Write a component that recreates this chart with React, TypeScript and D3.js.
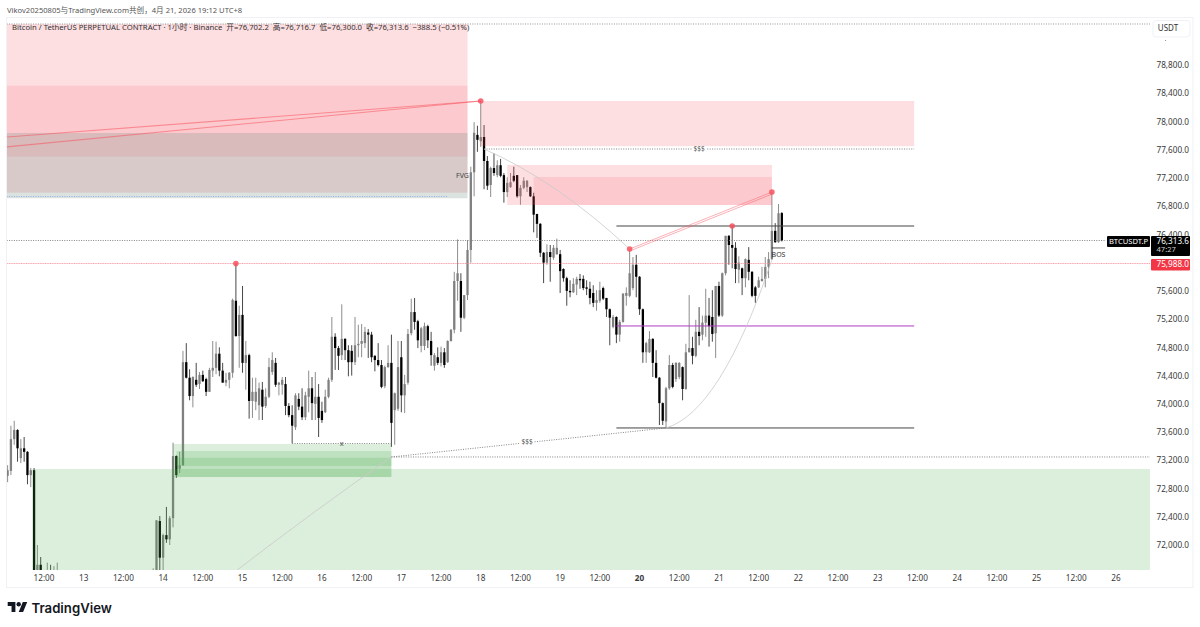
import * as d3 from 'd3';

type Candle = [number, number, number, number]; // open, high, low, close

const at = (day: number, hour: number, minute = 0) =>
  new Date(Date.UTC(2026, 3, day, hour, minute));

// Candles, one array per day. Apr 12 late / Apr 13 sit below the visible range.
const apr12: Candle[] = [
  [72980, 73130, 72890, 73060], [73050, 73690, 72990, 73500], [73500, 73760, 73420, 73630], [73630, 73640, 73180, 73370],
  [73230, 73500, 73160, 73370], [73370, 73530, 73180, 73320], [73320, 73330, 72860, 72990], [72990, 73090, 72820, 73060],
  [73060, 73090, 71350, 71500], [71500, 72000, 71400, 71720], [71720, 71830, 71450, 71600], [71600, 71640, 71300, 71450],
  [71450, 71750, 71300, 71550], [71550, 71720, 71350, 71480], [71480, 71700, 71350, 71500], [71500, 71750, 71400, 71620],
];
const apr13Late: Candle[] = [
  [71500, 71670, 71300, 71600], [71600, 72350, 71450, 72350], [72340, 72410, 71500, 71820],
];
const apr14: Candle[] = [
  [71820, 72160, 71500, 72140], [72140, 72540, 72030, 72080], [72080, 72410, 72000, 72380], [72380, 73450, 72250, 73260],
  [73260, 73270, 72950, 72990], [73080, 73320, 73020, 73130], [73130, 74750, 73120, 74590], [74590, 74860, 74360, 74370],
  [74370, 74490, 74050, 74110], [74110, 74390, 73950, 74380], [74340, 74580, 74240, 74270], [74280, 74450, 74210, 74410],
  [74410, 74470, 74310, 74320], [74350, 74370, 74110, 74170], [74170, 74510, 74170, 74480], [74470, 74890, 74380, 74510],
  [74510, 74880, 74420, 74710], [74710, 74800, 74390, 74470], [74470, 74580, 74300, 74300], [74300, 74440, 74250, 74340],
  [74340, 74450, 74220, 74440], [74440, 75490, 74370, 75470], [75460, 75988, 74950, 74960], [74960, 75390, 74510, 75260],
];
const apr15: Candle[] = [
  [75260, 75670, 74440, 74580], [74580, 74890, 74200, 74690], [74690, 74710, 73790, 74040], [74040, 74370, 73800, 74170],
  [74030, 74370, 73910, 74170], [73980, 74300, 73770, 74220], [74200, 74310, 73770, 73960], [73970, 74220, 73940, 74100],
  [74100, 74650, 74080, 74520], [74450, 74730, 74410, 74620], [74580, 74650, 74240, 74270], [74270, 74310, 74120, 74300],
  [74270, 74380, 74130, 74340], [74280, 74380, 73840, 73970], [73970, 74010, 73810, 73840], [73840, 73980, 73440, 73690],
  [73670, 74150, 73630, 74120], [74070, 74150, 73910, 73960], [73960, 74220, 73770, 73810], [73810, 74170, 73770, 74120],
  [74100, 74470, 73880, 74220], [74220, 74380, 73770, 74010], [74000, 74450, 73770, 74100], [74100, 74280, 73530, 73800],
];
const apr16: Candle[] = [
  [73900, 74030, 73730, 73770], [73880, 74200, 73870, 74100], [74100, 74370, 74080, 74340], [74340, 75230, 74310, 74950],
  [74950, 75000, 74480, 74790], [74790, 74820, 74480, 74680], [74690, 75410, 74620, 74920], [74920, 74930, 74620, 74760],
  [74760, 74830, 74390, 74590], [74750, 74830, 74400, 74590], [74590, 75230, 74550, 74830], [74830, 75120, 74660, 74850],
  [74850, 75130, 74660, 74890], [74860, 75090, 74790, 75020], [75010, 75060, 74650, 74980], [74980, 75020, 74590, 74660],
  [74680, 74690, 74460, 74620], [74620, 74860, 74530, 74550], [74550, 74620, 74220, 74240], [74250, 74540, 74220, 74520],
  [74520, 74830, 74510, 74580], [74580, 74980, 73390, 73730], [73910, 74160, 73420, 74150], [73930, 74890, 73900, 74520],
];
const apr17: Candle[] = [
  [74660, 74890, 73880, 74120], [74120, 74410, 73870, 74280], [74300, 75060, 74270, 74990], [75000, 75490, 74970, 75300],
  [75300, 75500, 75050, 75160], [75170, 75190, 74790, 74900], [74820, 75090, 74730, 75070], [74820, 75150, 74760, 75100],
  [75100, 75120, 74790, 74900], [74890, 75020, 74540, 74690], [74540, 74720, 74470, 74690], [74660, 74800, 74550, 74580],
  [74580, 74810, 74530, 74730], [74730, 74790, 74510, 74550], [74590, 74900, 74580, 74890], [74890, 75060, 74880, 75050],
  [75050, 75870, 75000, 75740], [75740, 76330, 75460, 75850], [75740, 75850, 75020, 75220], [75220, 75540, 75200, 75540],
  [75540, 76320, 75470, 76180], [76180, 77360, 76000, 77280], [77280, 77990, 76940, 77840], [77810, 77940, 77570, 77740],
];
const apr18: Candle[] = [
  [77720, 78290, 77640, 77780], [77780, 77950, 77040, 77440], [77440, 77510, 77030, 77090], [77100, 77360, 76930, 77340],
  [77340, 77550, 77230, 77270], [77240, 77450, 77210, 77380], [77380, 77470, 77210, 77230], [77240, 77270, 76850, 77000],
  [77000, 77210, 76930, 77130], [77070, 77270, 77060, 77140], [77230, 77360, 77140, 77160], [77240, 77240, 76920, 76940],
  [76940, 77100, 76820, 77060], [77060, 77210, 77040, 77160], [77070, 77170, 77000, 77160], [77070, 77080, 76930, 76940],
  [76940, 76990, 76430, 76680], [76690, 76690, 76350, 76550], [76550, 76560, 76080, 76140], [76140, 76150, 75710, 76000],
  [76000, 76260, 75970, 76150], [76150, 76250, 75730, 76080], [76070, 76250, 76040, 76210], [76120, 76340, 76110, 76210],
];
const apr19: Candle[] = [
  [76120, 76180, 75570, 75880], [75910, 75920, 75730, 75780], [75780, 75800, 75390, 75600], [75600, 75750, 75510, 75580],
  [75580, 75780, 75570, 75700], [75690, 75800, 75540, 75770], [75770, 75840, 75630, 75750], [75770, 75820, 75610, 75640],
  [75650, 75750, 75540, 75630], [75630, 75730, 75410, 75500], [75570, 75680, 75370, 75430], [75430, 75610, 75320, 75470],
  [75460, 75730, 75430, 75610], [75640, 75660, 75470, 75490], [75500, 75500, 75230, 75340], [75340, 75350, 74830, 75220],
  [75090, 75260, 75070, 75230], [75230, 75240, 74860, 74980], [74980, 75190, 74880, 75160], [75160, 75570, 75150, 75560],
  [75530, 75650, 75390, 75570], [75530, 76190, 75510, 75850], [75640, 76080, 75610, 75970], [75970, 76110, 75510, 75800],
];
const apr20: Candle[] = [
  [75800, 75810, 75260, 75340], [75340, 75350, 74580, 74730], [74730, 74880, 74580, 74860], [74730, 75030, 74720, 74920],
  [74920, 74930, 74380, 74580], [74580, 74760, 74360, 74370], [74370, 74380, 73700, 74010], [74010, 74020, 73700, 73760],
  [73750, 74240, 73660, 74220], [74220, 74690, 74200, 74550], [74550, 74580, 74220, 74240], [74350, 74590, 74310, 74580],
  [74380, 74590, 74350, 74580], [74520, 74530, 74050, 74210], [74210, 74850, 74200, 74730], [74730, 75540, 74730, 74790],
  [74790, 74950, 74560, 74680], [74680, 75190, 74660, 75020], [75020, 75370, 74830, 74960], [74980, 75250, 74900, 75150],
  [75150, 75630, 74950, 75250], [75250, 75500, 74810, 75100], [75230, 75610, 74880, 74990], [75000, 75670, 74650, 75670],
];
const apr21: Candle[] = [
  [75670, 75730, 75230, 75250], [75250, 75860, 75230, 75850], [75850, 76380, 75820, 76380], [76380, 76390, 75970, 76250],
  [76250, 76520, 75920, 76210], [76210, 76290, 75710, 75910], [75900, 76090, 75710, 76000], [75920, 75930, 75540, 75780],
  [75780, 76060, 75650, 76050], [76040, 76220, 75750, 75870], [75870, 75880, 75510, 75530], [75650, 75670, 75430, 75530],
  [75650, 75800, 75640, 75750], [75740, 75940, 75730, 75770], [75770, 76080, 75650, 75940], [75940, 76150, 75780, 76050],
  [76050, 77000, 76040, 76450], [76450, 76560, 76280, 76290], [76290, 76830, 76280, 76700], [76702.2, 76716.7, 76300, 76313.6],
];

const candleRuns: [Date, Candle[]][] = [
  [at(12, 1), apr12], [at(13, 21), apr13Late], [at(14, 0), apr14], [at(15, 0), apr15], [at(16, 0), apr16],
  [at(17, 0), apr17], [at(18, 0), apr18], [at(19, 0), apr19], [at(20, 0), apr20], [at(21, 0), apr21],
];

const priceTicks = [78800, 78400, 78000, 77600, 77200, 76800, 76400, 75600, 75200, 74800, 74400, 74000, 73600, 73200, 72800, 72400, 72000];

// zones: from, to, top price, bottom price, fill
const RED = 'rgba(247,82,95,0.19)';
const RED_INNER = 'rgba(247,82,95,0.14)';
const GREEN = 'rgba(76,175,80,0.2)';
const GREY = 'rgba(112,144,136,0.25)';
type Zone = [Date, Date, number, number, string];
const supplyZones: Zone[] = [
  [at(12, 0), at(17, 20), 79381, 76991, RED],
  [at(12, 0), at(17, 20), 78507, 77501, RED_INNER],
  [at(12, 0), at(17, 20), 77837, 76912, GREY],
  [at(18, 0), at(23, 11), 78290, 77650, RED],
  [at(18, 8), at(21, 16), 77384, 76817, RED],
  [at(18, 16), at(21, 16), 77213, 76817, RED_INNER],
];
const demandZones: Zone[] = [
  [at(12, 8, 30), at(26, 23), 73077, 71000, GREEN],
  [at(14, 3), at(16, 21), 73431, 72963, GREEN],
  [at(14, 4), at(16, 21), 73332, 72963, GREEN],
  [at(14, 4), at(16, 21), 73237, 73119, GREEN],
];

// solid levels: from, to, price, colour, opacity
const levels: [Date, Date, number, string, number][] = [
  [at(19, 17), at(23, 11), 76519, '#444', 1],
  [at(19, 17), at(23, 11), 73658, '#444', 1],
  [at(19, 17), at(23, 11), 75103, '#b03cc4', 1],
  [at(12, 0), at(26, 23), 75988, '#f7525f', 0.2],
];
// dotted levels
const dottedLevels: [Date, Date, number, string][] = [
  [at(12, 0), at(26, 23), 79381, '#8a8a8a'],
  [at(18, 1), at(23, 11), 77610, '#777'],
  [at(12, 0), at(17, 14), 76937, '#8fa6e6'],
  [at(12, 0), at(25, 21), 76313.6, '#777'],
  [at(12, 0), at(26, 23), 75988, '#fb9aa4'],
  [at(15, 15), at(16, 21), 73438, '#777'],
  [at(16, 21), at(26, 23), 73247, '#777'],
];

const pinkTrendFrom: [Date, number][] = [[at(12, 0), 77777], [at(12, 0), 77636]];
const pinkTrendTo: [Date, number] = [at(18, 0), 78290];
const pinkPairFrom: [Date, number][] = [[at(19, 21), 76193], [at(19, 21), 76165]];
const pinkPairTo: [Date, number][] = [[at(21, 16), 77000], [at(21, 16), 76970]];

// start, control, end of the thin grey arcs
const arcs: [Date, number][][] = [
  [[at(18, 1), 77610], [at(18, 23), 77157], [at(19, 21), 76193]],
  [[at(20, 8), 73658], [at(21, 0, 24), 73884], [at(21, 16), 76038]],
  [[at(16, 21), 73247], [at(15, 22), 72496], [at(14, 22), 71632]],
];

const swingPoints: [Date, number][] = [
  [at(14, 22), 75988], [at(18, 0), 78290], [at(19, 21), 76193], [at(21, 4), 76519], [at(21, 16), 77001],
];

const sweepFrom: [Date, number] = [at(16, 21), 73247];
const sweepTo: [Date, number] = [at(20, 8), 73658];

const x = d3.scaleUtc().domain([at(12, 12), at(26, 0)]).range([44, 1116]);
const y = d3.scaleLinear().domain([78800, 72000]).range([65, 545]);

const PLOT = { left: 7, right: 1150, top: 18, bottom: 570 };
const FONT = '"Noto Sans", "Noto Sans CJK SC", sans-serif';
const priceFmt = d3.format(',.1f');

const arcPath = ([a, c, b]: [Date, number][]) => {
  const p = d3.path();
  p.moveTo(x(a[0]), y(a[1]));
  p.quadraticCurveTo(x(c[0]), y(c[1]), x(b[0]), y(b[1]));
  return p.toString();
};

const timeTicks = d3.utcHour.range(at(12, 12), at(26, 1), 12);

const zoneRect = (z: Zone, i: number) => (
  <rect key={i} x={x(z[0])} width={x(z[1]) - x(z[0])} y={y(z[2])} height={y(z[3]) - y(z[2])} fill={z[4]} />
);

const Candles = () => (
  <g>
    {candleRuns.map(([start, rows]) =>
      rows.map(([o, h, l, c], i) => {
        const cx = x(d3.utcHour.offset(start, i));
        const up = c >= o;
        const top = y(Math.max(o, c));
        return (
          <g key={+start + i}>
            <line x1={cx} x2={cx} y1={y(h)} y2={y(l)} stroke={up ? '#808080' : '#333'} strokeWidth={0.9} />
            <rect x={cx - 1.15} width={2.3} y={top} height={Math.max(1, y(Math.min(o, c)) - top)} fill={up ? '#808080' : '#000'} />
          </g>
        );
      }),
    )}
  </g>
);

export default function App() {
  return (
    <svg
      width={1200}
      height={627}
      style={{ position: 'fixed', left: 0, top: 0, background: '#fff' }}
      fontFamily={FONT}
    >
      <defs>
        <clipPath id="plot">
          <rect x={PLOT.left} y={PLOT.top} width={PLOT.right - PLOT.left} height={PLOT.bottom - PLOT.top} />
        </clipPath>
      </defs>
      <text x={7} y={12.5} fontSize={7.6} fill="#555">
        Vikov20250805与TradingView.com共创，4月 21, 2026 19:12 UTC+8
      </text>
      <rect x={6.5} y={17.5} width={1186.5} height={570} fill="none" stroke="#eff1f4" />

      <g clipPath="url(#plot)">
        <Candles />
        {supplyZones.map(zoneRect)}
        {demandZones.map(zoneRect)}

        {levels.map(([a, b, p, col, op], i) => (
          <line key={i} x1={x(a)} x2={x(b)} y1={y(p)} y2={y(p)} stroke={col} strokeOpacity={op} strokeWidth={1} />
        ))}
        {dottedLevels.map(([a, b, p, col], i) => (
          <line key={i} x1={x(a)} x2={x(b)} y1={y(p)} y2={y(p)} stroke={col} strokeDasharray="1 1.4" strokeWidth={0.9} />
        ))}
        <line x1={x(sweepFrom[0])} y1={y(sweepFrom[1])} x2={x(sweepTo[0])} y2={y(sweepTo[1])} stroke="#777" strokeDasharray="1 1.4" strokeWidth={0.9} />
        {arcs.map((pts, i) => (
          <path key={i} d={arcPath(pts)} fill="none" stroke="#c9c9c9" strokeWidth={0.8} />
        ))}
        {pinkTrendFrom.map(([t, p], i) => (
          <line key={i} x1={x(t)} y1={y(p)} x2={x(pinkTrendTo[0])} y2={y(pinkTrendTo[1])} stroke="#f7525f" strokeOpacity={0.55} strokeWidth={1.1} />
        ))}
        {pinkPairFrom.map(([t, p], i) => (
          <line key={i} x1={x(t)} y1={y(p)} x2={x(pinkPairTo[i][0])} y2={y(pinkPairTo[i][1])} stroke="#f7525f" strokeOpacity={0.45} strokeWidth={1} />
        ))}
        {swingPoints.map(([t, p], i) => (
          <circle key={i} cx={x(t)} cy={y(p)} r={2.8} fill="#f7525f" fillOpacity={0.85} />
        ))}

        <text x={x(at(17, 18, 30))} y={y(77230)} fontSize={7} fill="#444" textAnchor="middle" dominantBaseline="middle">FVG</text>
        <g fontSize={6.5} fill="#555" textAnchor="middle" dominantBaseline="middle">
          <rect x={x(at(20, 18)) - 7} y={y(77610) - 3} width={14} height={6} fill="#fff" />
          <text x={x(at(20, 18))} y={y(77610)}>$$$</text>
          <rect x={x(at(18, 14)) - 7} y={y(73459) - 3} width={14} height={6} fill="#fff" />
          <text x={x(at(18, 14))} y={y(73459)}>$$$</text>
          <text x={x(at(16, 6))} y={y(73438)} fontSize={7.5}>x</text>
        </g>
        <line x1={x(at(21, 16))} x2={x(at(21, 20))} y1={y(76208)} y2={y(76208)} stroke="#222" strokeWidth={0.8} />
        <text x={x(at(21, 18))} y={y(76100)} fontSize={7} fill="#333" textAnchor="middle" dominantBaseline="middle">BOS</text>
      </g>

      <text x={12} y={30} fontSize={7.7} fill="#333" style={{ whiteSpace: 'pre' }}>
        {'Bitcoin / TetherUS PERPETUAL CONTRACT · 1小时 · Binance  开=76,702.2  高=76,716.7  低=76,300.0  收=76,313.6  −388.5 (−0.51%)'}
      </text>

      <g fontSize={8.2} fill="#3a3a3a">
        {priceTicks.map((p) => (
          <text key={p} x={1156.5} y={y(p) + 1} dominantBaseline="middle">{priceFmt(p)}</text>
        ))}
        {timeTicks.map((t) => (
          <text
            key={+t}
            x={x(t)}
            y={579}
            textAnchor="middle"
            dominantBaseline="middle"
            fontWeight={t.getUTCHours() === 0 && t.getUTCDate() === 20 ? 700 : 400}
          >
            {t.getUTCHours() === 0 ? t.getUTCDate() : '12:00'}
          </text>
        ))}
      </g>

      <rect x={1153} y={20.5} width={37} height={16.5} rx={3} fill="#fff" stroke="#eff1f4" />
      <text x={1168} y={29} fontSize={8} fill="#333" textAnchor="middle" dominantBaseline="middle">USDT</text>
      <circle cx={1165.5} cy={40.5} r={0.6} fill="#888" />

      <rect x={1107} y={236} width={43} height={11} rx={1} fill="#000" />
      <text x={1128.5} y={241.8} fontSize={7.6} fill="#fff" textAnchor="middle" dominantBaseline="middle">BTCUSDT.P</text>
      <rect x={1151} y={236} width={39} height={20} rx={1} fill="#000" />
      <text x={1156.5} y={241.3} fontSize={8.2} fill="#fff" dominantBaseline="middle">{priceFmt(76313.6)}</text>
      <text x={1156.5} y={250.3} fontSize={7.6} fill="#ccc" dominantBaseline="middle">47:27</text>
      <rect x={1151} y={259} width={39} height={11.5} rx={1} fill="#f23645" />
      <text x={1156.5} y={264.8} fontSize={8.2} fill="#fff" dominantBaseline="middle">{priceFmt(75988)}</text>

      <g transform="translate(7.7,599.9) scale(0.55)" fill="#131722">
        <path d="M14 22H7V11H0V4h14v18zM28 22h-8l7.5-18h8L28 22z" />
        <circle cx={20} cy={8} r={4} />
      </g>
      <text x={31.5} y={612.5} fontFamily="Inter, sans-serif" fontSize={13.2} fontWeight={600} fill="#131722">TradingView</text>
    </svg>
  );
}
